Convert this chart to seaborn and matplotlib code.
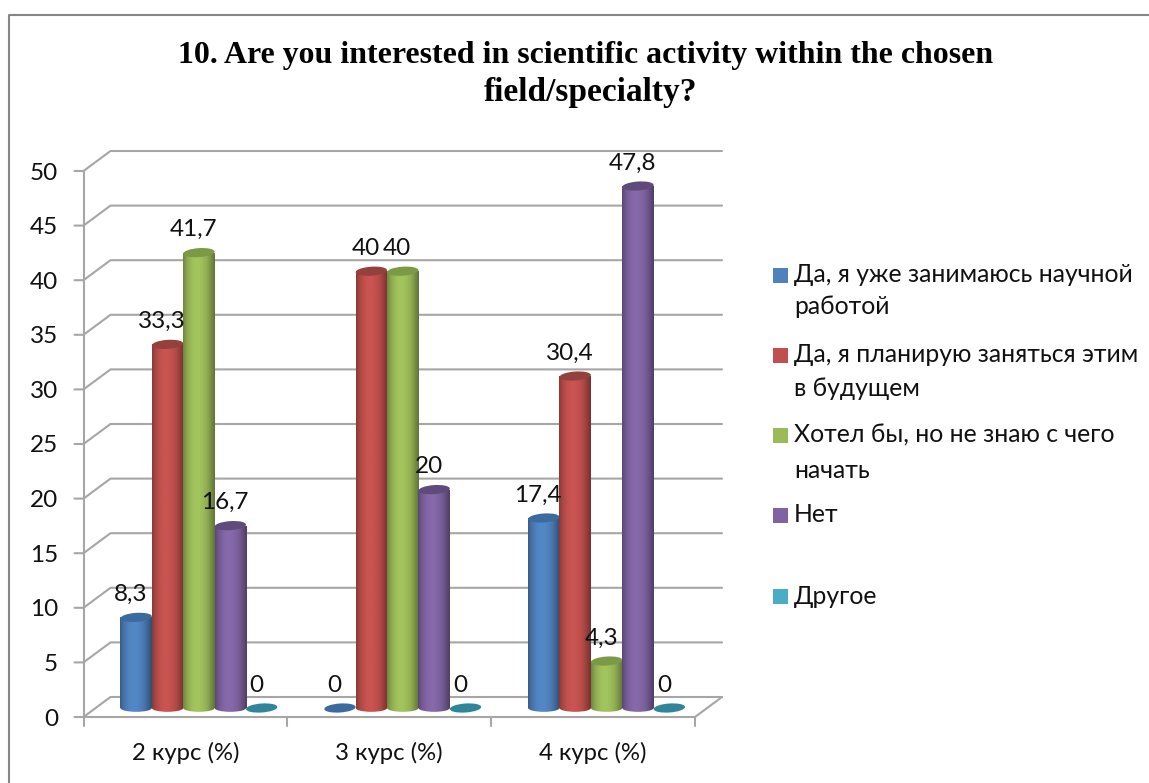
import numpy as np
import pandas as pd
import matplotlib
matplotlib.use("Agg")
import matplotlib.pyplot as plt
from matplotlib.patches import Ellipse, Rectangle
from matplotlib.transforms import IdentityTransform
import seaborn as sns

# -----------------------------------
# Data
# -----------------------------------
courses = ["2 курс (%)", "3 курс (%)", "4 курс (%)"]
answers = [
    "Да, я уже занимаюсь научной\nработой",
    "Да, я планирую заняться этим\nв будущем",
    "Хотел бы, но не знаю с чего\nначать",
    "Нет",
    "Другое",
]
already = [8.3, 0, 17.4]
planning = [33.3, 40, 30.4]
want_to = [41.7, 40, 4.3]
no_answer = [16.7, 20, 47.8]
other = [0, 0, 0]
value_labels = [
    ["8,3", "0", "17,4"],
    ["33,3", "40", "30,4"],
    ["41,7", "40", "4,3"],
    ["16,7", "20", "47,8"],
    ["0", "0", "0"],
]
y_ticks = [0, 5, 10, 15, 20, 25, 30, 35, 40, 45, 50]
colors = ["#4f81bd", "#c0504d", "#9bbb59", "#8064a2", "#4bacc6"]
cap_colors = ["#3a6a9e", "#94403d", "#7a9a45", "#5f4a7c", "#2f8599"]

# -----------------------------------
# Setup (layout in pixels of the 1149x783 picture)
# -----------------------------------
W, H = 1149, 783
FRONT_X0, FRONT_X1 = 83.5, 695
FRONT_Y0, FRONT_Y50 = 717, 171
DEPTH_X, DEPTH_Y = 27, 20
BAR_DX, BAR_DY = 13.5, 9
GRAY = "#a6a6a6"
TEXT = "#111111"
LABEL_FONT = ["Lato", "DejaVu Sans"]

sns.set_theme(style="white")
plt.rcParams["font.family"] = LABEL_FONT

fig = plt.figure(figsize=(W / 100, H / 100), dpi=100)

# furniture in pixel coordinates, y pointing down
bg = fig.add_axes([0, 0, 1, 1])
bg.set_xlim(0, W)
bg.set_ylim(H, 0)
bg.axis("off")

bg.plot([8.5, 8.5, W], [H, 15, 15], color="#868686", lw=1.5)

px_per_unit = (FRONT_Y0 - FRONT_Y50) / max(y_ticks)
for tick in y_ticks:
    y = FRONT_Y0 - tick * px_per_unit
    bg.plot([FRONT_X0 - 9, FRONT_X0, FRONT_X0 + DEPTH_X, FRONT_X1 + DEPTH_X],
            [y, y, y - DEPTH_Y, y - DEPTH_Y], color=GRAY, lw=1.5)
    bg.text(58, y + 2, str(tick), ha="right", va="center", fontsize=17.5, color=TEXT)

bg.plot([FRONT_X0, FRONT_X0], [FRONT_Y50, FRONT_Y0 + 9], color=GRAY, lw=1.5)
bg.plot([FRONT_X0, FRONT_X1, FRONT_X1 + DEPTH_X],
        [FRONT_Y0, FRONT_Y0, FRONT_Y0 - DEPTH_Y], color=GRAY, lw=1.5)

group_px = (FRONT_X1 - FRONT_X0) / len(courses)
for i, course in enumerate(courses):
    bg.plot([FRONT_X0 + (i + 1) * group_px] * 2, [FRONT_Y0, FRONT_Y0 + 9], color=GRAY, lw=1.5)
    bg.text(FRONT_X0 + (i + 0.5) * group_px, 753, course, ha="center", va="center",
            fontsize=17.2, color=TEXT)

bg.text(585.5, 56, "10. Are you interested in scientific activity within the chosen",
        ha="center", va="center", fontsize=22.95, fontweight="bold",
        family="Liberation Serif", color="black")
bg.text(591, 93, "field/specialty?",
        ha="center", va="center", fontsize=24, fontweight="bold",
        family="Liberation Serif", color="black")

# legend
legend_lines_y = [[275, 306], [355, 388], [435, 471], [515], [596]]
for answer, color, lines_y in zip(answers, colors, legend_lines_y):
    bg.add_patch(Rectangle((773, lines_y[0] - 7.5), 15, 15, color=color, lw=0))
    for line, y in zip(answer.split("\n"), lines_y):
        bg.text(794, y, line, ha="left", va="center", fontsize=17.8, color=TEXT)

# -----------------------------------
# Bars
# -----------------------------------
df = pd.DataFrame({
    "course": courses * len(answers),
    "answer": np.repeat(answers, len(courses)),
    "value": already + planning + want_to + no_answer + other,
})

x0 = FRONT_X0 + BAR_DX
x1 = FRONT_X1 + BAR_DX
y0 = FRONT_Y0 - BAR_DY
ax = fig.add_axes([x0 / W, 1 - y0 / H, (x1 - x0) / W, (FRONT_Y0 - FRONT_Y50) / H])
ax.patch.set_alpha(0)

sns.barplot(data=df, x="course", y="value", hue="answer", hue_order=answers,
            palette=colors, width=0.77, legend=False, ax=ax)
ax.set_xlim(-0.5, 2.5)
ax.set_ylim(0, max(y_ticks))
ax.axis("off")

CAP_PX = 9
cap_h = CAP_PX / px_per_unit
shade = np.array([0.72, 0.9, 1.0, 1.05, 1.05, 1.0, 0.93, 0.78, 0.62])
shade = np.interp(np.linspace(0, 1, 64), np.linspace(0, 1, len(shade)), shade)
data_to_px = (x1 - x0) / 3

for s, container in enumerate(ax.containers):
    rgb = np.array(matplotlib.colors.to_rgb(colors[s]))
    grad = (shade[None, :, None] * rgb[None, None, :]).clip(0, 1)
    for c, bar in enumerate(container):
        left, w, h = bar.get_x(), bar.get_width(), bar.get_height()
        bar.set_edgecolor("none")
        cx = left + w / 2
        if h > 0:
            # cylinder body with a rounded foot
            extent = (left, left + w, -cap_h, h)
            foot = Ellipse((cx, 0), w, cap_h * 0.85, lw=0, fc="none", clip_on=False, zorder=s + 2)
            ax.add_patch(foot)
            bar.set_clip_on(False)
            bar.set_zorder(s + 2)
            for clip in (bar, foot):
                im = ax.imshow(grad, extent=extent, aspect="auto", zorder=s + 2.1)
                im.set_clip_path(clip)
                if clip is foot:
                    im.set_clip_box(fig.bbox)
        # cap is tilted a little, so it is drawn in display pixels
        ax.set_xlim(-0.5, 2.5)
        ax.set_ylim(0, max(y_ticks))
        center = ax.transData.transform((cx, h))
        ax.add_patch(Ellipse(center, w * data_to_px, CAP_PX, angle=4, fc=cap_colors[s], lw=0,
                             transform=IdentityTransform(), zorder=s + 2.2, clip_on=False))
        ax.annotate(value_labels[s][c], (cx, h), xytext=(-5.5, 23), textcoords="offset pixels",
                    ha="center", va="center", fontsize=17.5, color=TEXT,
                    zorder=20, annotation_clip=False)

ax.set_xlim(-0.5, 2.5)
ax.set_ylim(0, max(y_ticks))

fig.savefig("out.png", dpi=100)
plt.close(fig)
